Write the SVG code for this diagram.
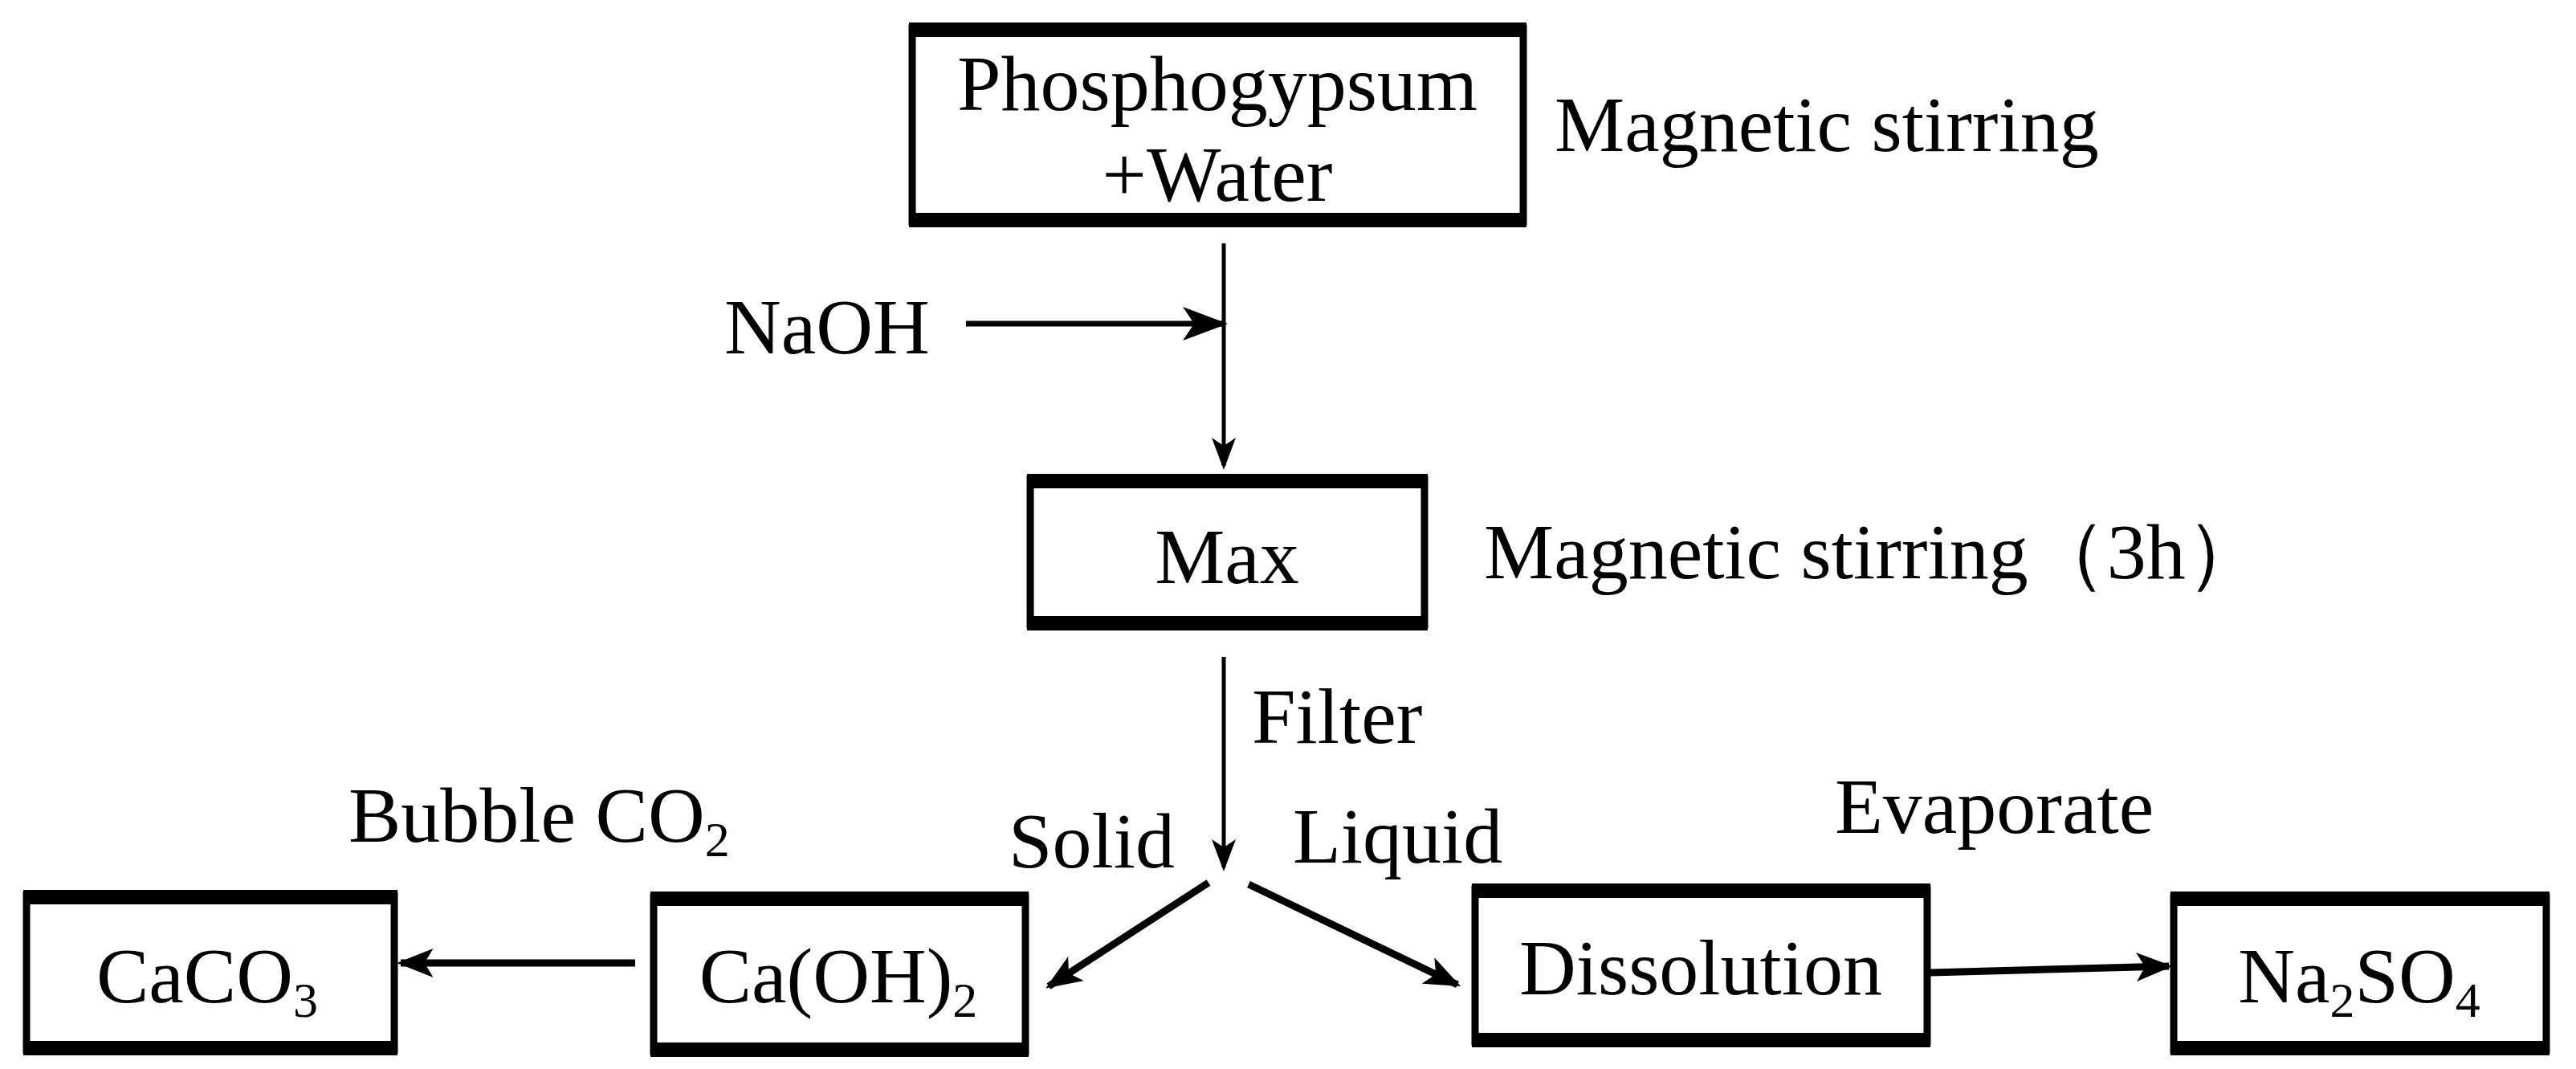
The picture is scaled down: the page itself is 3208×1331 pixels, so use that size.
<svg xmlns="http://www.w3.org/2000/svg" width="3208" height="1331" viewBox="0 0 3208 1331">
<style>
text{font-family:"Liberation Serif","Times New Roman",serif;font-size:98px;fill:#000}
.m{text-anchor:middle}
.b{fill:#fff;stroke:#000;stroke-width:9}
.t{stroke:#000;stroke-width:18}
.c{stroke:#000;fill:none}
</style>
<defs>
<marker id="a" markerWidth="8" markerHeight="6" refX="7" refY="3" orient="auto" markerUnits="strokeWidth"><path d="M0,0L8,3L0,6L2,3z" fill="#000"/></marker>
<marker id="a2" markerWidth="5" markerHeight="4" refX="4.5" refY="2" orient="auto" markerUnits="strokeWidth"><path d="M0,0L5,2L0,4L1.2,2z" fill="#000"/></marker>
</defs>
<rect width="3208" height="1331" fill="#fff"/>
<g id="n1"><rect class="b" x="1136" y="35" width="761" height="241"/><line class="t" x1="1132" y1="37" x2="1901" y2="37"/><line class="t" x1="1132" y1="274" x2="1901" y2="274"/>
<text class="m" x="1516" y="137">Phosphogypsum</text><text class="m" x="1516" y="250">+Water</text></g>
<g id="n2"><rect class="b" x="1283" y="597" width="491" height="181"/><line class="t" x1="1279" y1="599" x2="1778" y2="599"/><line class="t" x1="1279" y1="776" x2="1778" y2="776"/>
<text class="m" x="1528" y="726">Max</text></g>
<g id="n3"><rect class="b" x="33" y="1115" width="458" height="192"/><line class="t" x1="29" y1="1117" x2="495" y2="1117"/><line class="t" x1="29" y1="1305" x2="495" y2="1305"/>
<text class="m" x="258" y="1248">CaCO<tspan font-size="62" dy="18">3</tspan></text></g>
<g id="n4"><rect class="b" x="814" y="1117" width="463" height="192"/><line class="t" x1="810" y1="1119" x2="1281" y2="1119"/><line class="t" x1="810" y1="1307" x2="1281" y2="1307"/>
<text class="m" x="1044" y="1248">Ca(OH)<tspan font-size="62" dy="18">2</tspan></text></g>
<g id="n5"><rect class="b" x="1837" y="1107" width="563" height="190"/><line class="t" x1="1833" y1="1109" x2="2404" y2="1109"/><line class="t" x1="1833" y1="1295" x2="2404" y2="1295"/>
<text class="m" x="2118" y="1238">Dissolution</text></g>
<g id="n6"><rect class="b" x="2707" y="1117" width="464" height="190"/><line class="t" x1="2703" y1="1119" x2="3175" y2="1119"/><line class="t" x1="2703" y1="1305" x2="3175" y2="1305"/>
<text class="m" x="2938" y="1248">Na<tspan font-size="62" dy="18">2</tspan><tspan dy="-18">SO</tspan><tspan font-size="62" dy="18">4</tspan></text></g>
<g id="labels">
<text x="1936" y="188">Magnetic stirring</text>
<text x="902" y="440">NaOH</text>
<text x="1848" y="720">Magnetic stirring（3h）</text>
<text x="1559" y="925">Filter</text>
<text x="1256" y="1080">Solid</text>
<text x="1610" y="1074">Liquid</text>
<text x="434" y="1048">Bubble CO<tspan font-size="62" dy="18">2</tspan></text>
<text x="2285" y="1037">Evaporate</text>
</g>
<g id="connectors">
<line class="c" stroke-width="5" x1="1524" y1="303" x2="1524" y2="580" marker-end="url(#a)"/>
<line class="c" stroke-width="7" x1="1203" y1="403" x2="1522" y2="403" marker-end="url(#a)"/>
<line class="c" stroke-width="5" x1="1524" y1="818" x2="1524" y2="1080" marker-end="url(#a)"/>
<line class="c" stroke-width="9" x1="1505" y1="1099" x2="1306" y2="1228" marker-end="url(#a2)"/>
<line class="c" stroke-width="9" x1="1555" y1="1101" x2="1815" y2="1226" marker-end="url(#a2)"/>
<line class="c" stroke-width="9" x1="791" y1="1199" x2="499" y2="1199" marker-end="url(#a2)"/>
<line class="c" stroke-width="9" x1="2404" y1="1211" x2="2701" y2="1203" marker-end="url(#a2)"/>
</g>
</svg>
